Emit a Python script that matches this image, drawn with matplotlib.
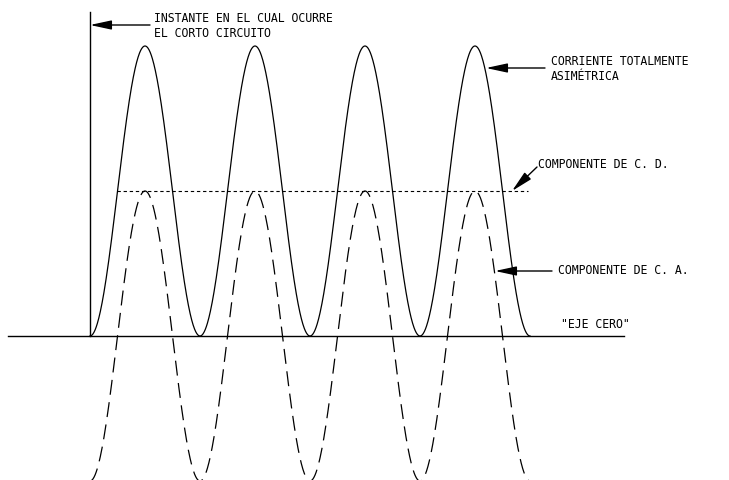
import numpy as np
import matplotlib
matplotlib.use("Agg")
import matplotlib.pyplot as plt

# Waveform parameters (per unit, time in cycles)
cycles = 4
dc_level = 1.0          # componente de C. D.
ac_peak = 1.0           # amplitud de la componente de C. A.
t = np.linspace(0, cycles, 1200)
ac = -ac_peak * np.cos(2 * np.pi * t)
total = dc_level + ac

# Labels
label_instant = "INSTANTE EN EL CUAL OCURRE\nEL CORTO CIRCUITO"
label_total = "CORRIENTE TOTALMENTE\nASIMÉTRICA"
label_dc = "COMPONENTE DE C. D."
label_ac = "COMPONENTE DE C. A."
label_zero = '"EJE CERO"'

# pixel helpers -> data (x0 px = 90, 110 px per cycle; y0 px = 336, 145 px per unit)
def tx(px):
    return (px - 90) / 110.0

def ty(py):
    return (336 - py) / 145.0


def main():
    fig = plt.figure(figsize=(7.29, 4.80), dpi=100)
    ax = fig.add_axes([0, 0, 1, 1])
    ax.set_xlim(tx(0), tx(729))
    ax.set_ylim(ty(480), ty(0))
    ax.axis("off")

    font = dict(family="DejaVu Sans Mono", fontsize=8.3, color="black")

    # Zero axis and instant line
    ax.plot([tx(8), tx(624)], [0, 0], color="black", lw=1.0)
    ax.plot([0, 0], [0, ty(12)], color="black", lw=1.0)

    # Curves
    ax.plot(t, total, color="black", lw=0.9)
    ax.plot(t, ac, color="black", lw=0.9, dashes=(12, 6))
    ax.plot([tx(117), tx(528)], [dc_level, dc_level], color="black",
            lw=0.8, dashes=(3, 2.5))

    arrow = dict(arrowstyle="-|>,head_length=1.3,head_width=0.28",
                 color="black", lw=1.0, mutation_scale=10,
                 shrinkA=0, shrinkB=0)

    # Instant annotation
    ax.annotate("", xy=(0, ty(25)), xytext=(tx(150), ty(25)), arrowprops=arrow)
    ax.text(tx(154), ty(26), label_instant, ha="left", va="center",
            linespacing=1.2, **font)

    # Total current
    ax.annotate("", xy=(tx(486), ty(68)), xytext=(tx(545), ty(68)),
                arrowprops=arrow)
    ax.text(tx(551), ty(69), label_total, ha="left", va="center",
            linespacing=1.2, **font)

    # DC component
    ax.annotate("", xy=(tx(512), dc_level), xytext=(tx(537), ty(167)),
                arrowprops=arrow)
    ax.text(tx(538), ty(165), label_dc, ha="left", va="center", **font)

    # AC component
    ax.annotate("", xy=(tx(495), ty(271)), xytext=(tx(552), ty(271)),
                arrowprops=arrow)
    ax.text(tx(558), ty(271), label_ac, ha="left", va="center", **font)

    # Zero axis label
    ax.text(tx(561), ty(324), label_zero, ha="left", va="center", **font)

    fig.savefig("out.png", dpi=100)
    plt.close(fig)


if __name__ == '__main__':
    main()
